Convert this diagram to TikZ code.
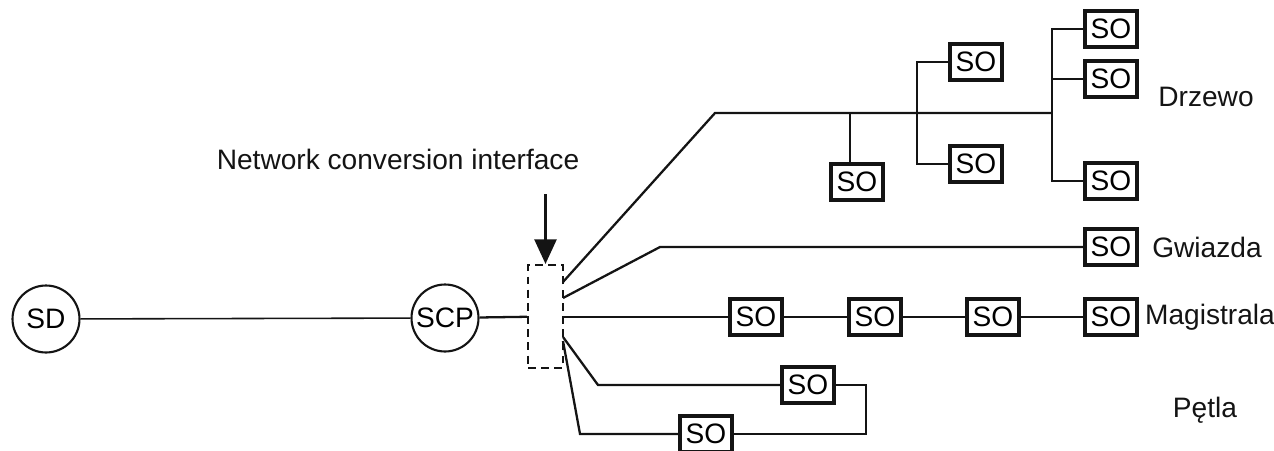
\documentclass[tikz,border=0pt]{standalone}
\usepackage{fontspec}
\setmainfont{Liberation Sans}
\usetikzlibrary{arrows.meta}
\definecolor{netdark}{RGB}{20, 20, 20}
\tikzstyle{link}=[line width=1.3pt, color=netdark]
\tikzstyle{sobox}=[draw=netdark, line width=2pt, inner sep=0pt, minimum width=1.04cm, minimum height=0.72cm, font=\fontsize{16}{18}\selectfont]
\tikzstyle{station}=[draw=netdark, circle, line width=1.2pt, inner sep=0pt, minimum size=1.34cm, font=\fontsize{16}{18}\selectfont]
\tikzstyle{label}=[font=\fontsize{16}{18}\selectfont, color=netdark]

\begin{document}
\begin{tikzpicture}[x=0.02cm, y=-0.02cm]
    \useasboundingbox (0,0) rectangle (1274,450);

    % Source and central point
    \node[station] (sd) at (46,319) {SD};
    \node[station] (scp) at (445,318) {SCP};
    \draw[link, line width=0.9pt] (sd) -- (scp);

    % Conversion interface
    \node[draw=netdark, dashed, line width=1.2pt, dash pattern=on 4.5pt off 3pt,
          minimum width=0.7cm, minimum height=2.06cm] (iface) at (545.5,316.5) {};
    \draw[link] (scp) -- (iface);
    \node[label] (ifacetxt) at (398,159) {Network conversion interface};
    \draw[link, line width=1.5pt, -{Triangle[width=12.5pt, length=14pt]}] (545.5,194) -- (iface.north);

    % Tree
    \coordinate (treeout) at (563,282);
    \coordinate (treebend) at (715,113);
    \coordinate (j1) at (850,113);
    \coordinate (j2) at (917,113);
    \coordinate (j3) at (1052,113);
    \node[sobox] (t1) at (857,182) {SO};
    \node[sobox] (t2) at (976,62) {SO};
    \node[sobox] (t3) at (976,164) {SO};
    \node[sobox] (t4) at (1111,29) {SO};
    \node[sobox] (t5) at (1111,79) {SO};
    \node[sobox] (t6) at (1111,181) {SO};
    \draw[link] (treeout) -- (treebend) -- (j3);
    \draw[link] (j1) -- (j1 |- t1.north);
    \draw[link] (t2.west) -| (j2 |- t3.west) -- (t3.west);
    \draw[link] (t4.west) -| (j3 |- t6.west) -- (t6.west);
    \draw[link] (j3 |- t5.west) -- (t5.west);
    \node[label] (drzewo) at (1206,97) {Drzewo};

    % Star
    \coordinate (starout) at (563,298);
    \coordinate (starbend) at (660,247);
    \node[sobox] (g1) at (1111,247) {SO};
    \draw[link] (starout) -- (starbend) -- (g1.west);
    \node[label] (gwiazda) at (1207,247) {Gwiazda};

    % Bus
    \node[sobox] (b1) at (756,317) {SO};
    \node[sobox] (b2) at (875,317) {SO};
    \node[sobox] (b3) at (993,317) {SO};
    \node[sobox] (b4) at (1111,317) {SO};
    \draw[link] (iface.east |- b1) -- (b1) -- (b2) -- (b3) -- (b4);
    \node[label] (magistrala) at (1210,317) {Magistrala};

    % Loop
    \coordinate (loopout) at (563,337);
    \coordinate (loopin) at (563,341);
    \coordinate (loopbend) at (598,385);
    \coordinate (loopcorner) at (866,434);
    \coordinate (loopback) at (580,434);
    \node[sobox] (p1) at (808,385) {SO};
    \node[sobox] (p2) at (706,434) {SO};
    \draw[link] (loopout) -- (loopbend) -- (p1.west);
    \draw[link] (p1.east) -| (loopcorner) -- (p2.east);
    \draw[link] (p2.west) -- (loopback) -- (loopin);
    \node[label] (petla) at (1205,410) {Pętla};

\end{tikzpicture}
\end{document}
